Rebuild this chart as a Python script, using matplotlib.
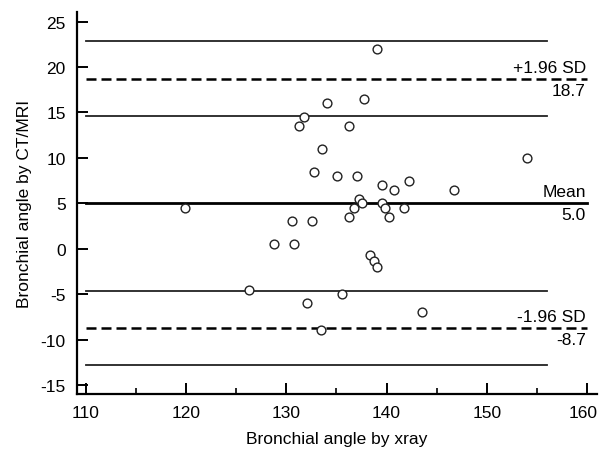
import matplotlib
matplotlib.use("Agg")
import matplotlib.pyplot as plt
import matplotlib.transforms as mtransforms
from matplotlib.ticker import MultipleLocator

plt.rcParams["font.family"] = ["Liberation Sans", "DejaVu Sans"]
plt.rcParams["axes.unicode_minus"] = False

# Bland-Altman data
xray = [139.0, 134.1, 137.8, 131.75, 131.3, 136.3, 133.55, 132.8, 135.05, 137.05,
        139.5, 142.25, 140.75, 137.25, 137.6, 136.75, 139.5, 139.8, 141.7, 136.3,
        140.25, 130.55, 132.6, 130.8, 128.8, 138.4, 138.7, 139.0, 135.55, 132.1,
        143.5, 133.5, 119.85, 126.3, 154.0, 146.7]
diff = [22.0, 16.0, 16.5, 14.5, 13.5, 13.5, 11.0, 8.5, 8.0, 8.0,
        7.0, 7.5, 6.5, 5.5, 5.0, 4.5, 5.0, 4.5, 4.5, 3.5,
        3.5, 3.0, 3.0, 0.5, 0.5, -0.7, -1.3, -2.0, -5.0, -6.0,
        -7.0, -9.0, 4.5, -4.5, 10.0, 6.5]

mean_diff = 5.0
upper_loa = 18.7
lower_loa = -8.7
ci_lines = [22.9, 14.6, -4.6, -12.8]

fig = plt.figure(figsize=(5.99, 4.52), dpi=100)
ax = fig.add_axes([0.1285, 0.126, 0.868, 0.846])

for y in ci_lines:
    ax.plot([110, 156], [y, y], color="#222222", lw=1.3)
ax.plot([110, 160], [mean_diff, mean_diff], color="black", lw=2.0)
for y in (upper_loa, lower_loa):
    ax.plot([110, 160], [y, y], color="black", lw=1.8, dashes=(4, 2))

ax.scatter(xray, diff, s=40, facecolors="white", edgecolors="#222222",
           linewidths=1.0, zorder=3)

labels = [(upper_loa, "+1.96 SD", "18.7"), (mean_diff, "Mean", "5.0"),
          (lower_loa, "-1.96 SD", "-8.7")]
for y, top, bottom in labels:
    ax.text(159.9, y + 0.45, top, ha="right", va="bottom", fontsize=12.5)
    ax.text(159.9, y - 0.45, bottom, ha="right", va="top", fontsize=12.5)

ax.set_xlim(109.1, 161)
ax.set_ylim(-16, 26.1)
ax.xaxis.set_minor_locator(MultipleLocator(5))
ax.set_xticks(range(110, 161, 10))
ax.set_yticks(range(-15, 26, 5))

for s in ("top", "right"):
    ax.spines[s].set_visible(False)
for s in ("left", "bottom"):
    ax.spines[s].set_linewidth(1.6)

ax.tick_params(which="major", direction="in", length=8, width=1.4, labelsize=12.5, pad=8)
ax.tick_params(which="minor", direction="in", length=4, width=1.2)

# nudge the last x label so it stays inside the figure
last = ax.get_xticklabels()[-1]
last.set_transform(last.get_transform() +
                   mtransforms.ScaledTranslation(-4 / 100, 0, fig.dpi_scale_trans))

ax.set_xlabel("Bronchial angle by xray", fontsize=12.5, labelpad=8)
ax.set_ylabel("Bronchial angle by CT/MRI", fontsize=12.5, labelpad=6)

fig.savefig("out.png", dpi=100)
